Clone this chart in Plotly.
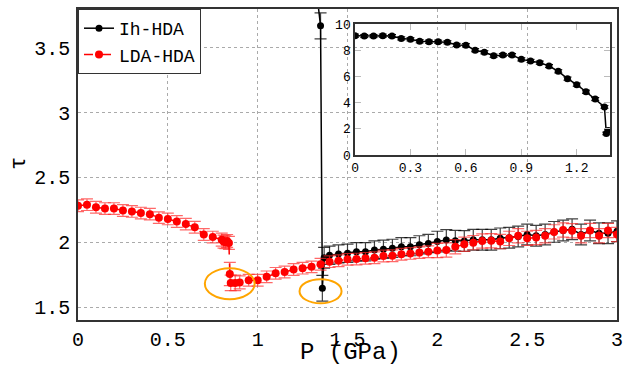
import plotly.graph_objects as go

# ---------------- data ----------------
# Ih-HDA (black)
ih_p = [0.00, 0.05, 0.10, 0.15, 0.20, 0.25, 0.30, 0.35, 0.40, 0.45, 0.50, 0.55, 0.60,
        0.65, 0.70, 0.75, 0.80, 0.85, 0.90, 0.95, 1.00, 1.05, 1.10, 1.15, 1.20, 1.25,
        1.30, 1.35, 1.36, 1.37, 1.40, 1.45, 1.50, 1.55, 1.60, 1.65, 1.70, 1.75, 1.80,
        1.85, 1.90, 1.95, 2.00, 2.05, 2.10, 2.15, 2.20, 2.25, 2.30, 2.35, 2.40, 2.45,
        2.50, 2.55, 2.60, 2.65, 2.70, 2.75, 2.80, 2.85, 2.90, 2.95, 3.00]
ih_tau = [9.11, 9.08, 9.08, 9.11, 9.08, 8.90, 8.83, 8.68, 8.65, 8.65, 8.60, 8.40, 8.38,
          8.00, 7.84, 7.58, 7.63, 7.63, 7.30, 7.18, 7.05, 6.79, 6.39, 5.83, 5.37, 4.83,
          4.27, 3.67, 1.645, 1.88, 1.90, 1.91, 1.915, 1.927, 1.927, 1.94, 1.946, 1.953,
          1.966, 1.966, 1.98, 1.99, 2.005, 2.018, 2.012, 2.01, 2.02, 2.02, 2.02, 2.03,
          2.035, 2.045, 2.06, 2.05, 2.06, 2.08, 2.09, 2.10, 2.06, 2.09, 2.07, 2.07, 2.085]
ih_err = [0.12] * 27 + [0.10, 0.10, 0.08] + [0.07] * 12 + [0.08] * 21

# LDA-HDA (red)
lda_p = [0.00, 0.05, 0.10, 0.15, 0.20, 0.25, 0.30, 0.35, 0.40, 0.45, 0.50, 0.55, 0.60,
         0.65, 0.70, 0.75, 0.80, 0.81, 0.82, 0.83, 0.84, 0.845, 0.85, 0.875, 0.90, 0.95,
         1.00, 1.05, 1.10, 1.15, 1.20, 1.25, 1.30, 1.35, 1.40, 1.45, 1.50, 1.55, 1.60,
         1.65, 1.70, 1.75, 1.80, 1.85, 1.90, 1.95, 2.00, 2.05, 2.10, 2.15, 2.20, 2.25,
         2.30, 2.35, 2.40, 2.45, 2.50, 2.55, 2.60, 2.65, 2.70, 2.75, 2.80, 2.85, 2.90,
         2.95, 3.00]
lda_tau = [2.282, 2.29, 2.27, 2.26, 2.26, 2.245, 2.238, 2.225, 2.217, 2.19, 2.18, 2.16,
           2.14, 2.116, 2.06, 2.04, 2.02, 2.005, 2.00, 2.01, 1.995, 1.755, 1.686, 1.686,
           1.69, 1.707, 1.707, 1.733, 1.76, 1.77, 1.79, 1.80, 1.81, 1.83, 1.85, 1.857,
           1.868, 1.87, 1.876, 1.88, 1.894, 1.896, 1.907, 1.914, 1.92, 1.927, 1.937, 1.94,
           1.966, 1.984, 1.997, 2.01, 2.012, 2.005, 2.03, 2.05, 2.03, 2.036, 2.05, 2.08,
           2.095, 2.088, 2.05, 2.09, 2.05, 2.09, 2.06]
lda_err = [0.045] * 16 + [0.05, 0.05, 0.05, 0.05, 0.05, 0.09, 0.06, 0.06, 0.05] + [0.045] * 21 + [0.055] * 21

main_xticks = [0, 0.5, 1, 1.5, 2, 2.5, 3]
main_yticks = [1.5, 2, 2.5, 3, 3.5]
inset_xticks = [0, 0.3, 0.6, 0.9, 1.2]
inset_yticks = [0, 2, 4, 6, 8, 10]

# highlighted regions (ellipses): [x0, x1, y0, y1]
ellipse1 = [0.706, 0.983, 1.56, 1.80]
ellipse2 = [1.233, 1.467, 1.529, 1.715]

MONO = "Liberation Mono, Courier New, monospace"
RED_ERR = "rgba(255,40,40,0.7)"

fig = go.Figure()

fig.add_trace(go.Scatter(
    x=ih_p, y=ih_tau, mode="lines+markers", name="Ih-HDA",
    line=dict(color="black", width=1.5),
    marker=dict(color="black", size=7),
    error_y=dict(type="data", array=ih_err, color="rgba(0,0,0,0.75)", thickness=1.2, width=6),
    xaxis="x", yaxis="y"))
fig.add_trace(go.Scatter(
    x=lda_p, y=lda_tau, mode="lines+markers", name="LDA-HDA",
    line=dict(color="red", width=1.5, dash="dash"),
    marker=dict(color="red", size=8),
    error_y=dict(type="data", array=lda_err, color=RED_ERR, thickness=1.2, width=6),
    xaxis="x", yaxis="y"))

fig.add_trace(go.Scatter(
    x=ih_p, y=ih_tau, mode="lines+markers", name="Ih-HDA", showlegend=False,
    line=dict(color="black", width=1.5),
    marker=dict(color="black", size=7),
    error_y=dict(type="data", array=ih_err, color="black", thickness=1, width=4),
    xaxis="x2", yaxis="y2"))

for e in (ellipse1, ellipse2):
    fig.add_shape(type="circle", xref="x", yref="y", x0=e[0], x1=e[1], y0=e[2], y1=e[3],
                  line=dict(color="orange", width=2), fillcolor="rgba(0,0,0,0)")

grid = dict(showgrid=True, gridcolor="#aaaaaa", griddash="dot", gridwidth=1,
            zeroline=False, showline=True, linecolor="#333333", linewidth=1.5,
            mirror=True, ticks="", automargin=False)

inset_ax = dict(showgrid=False, zeroline=False, showline=True, linecolor="#333333",
                linewidth=1.5, mirror="allticks", ticks="inside", ticklen=6,
                tickcolor="#bbbbbb", tickfont=dict(size=13), automargin=False)

fig.update_layout(
    width=634, height=368,
    margin=dict(l=78, r=17, t=9, b=48, autoexpand=False),
    paper_bgcolor="white", plot_bgcolor="rgba(0,0,0,0)",
    font=dict(family=MONO, size=20, color="black"),
    xaxis=dict(range=[0, 3], tickvals=main_xticks, ticktext=[str(v) for v in main_xticks], **grid),
    yaxis=dict(range=[1.4, 3.8], tickvals=main_yticks, ticktext=[str(v) for v in main_yticks],
               ticklabelstandoff=2, **grid),
    xaxis2=dict(domain=[0.514, 0.987], anchor="y2", range=[0, 1.38], tickvals=inset_xticks,
                ticktext=[str(v) for v in inset_xticks], **inset_ax),
    yaxis2=dict(domain=[0.5305, 0.9518], anchor="x2", range=[0, 10], tickvals=inset_yticks,
                ticktext=[str(v) for v in inset_yticks], **inset_ax),
    legend=dict(x=0, y=1, xanchor="left", yanchor="top", bgcolor="white",
                bordercolor="#333333", borderwidth=1, font=dict(size=18),
                tracegroupgap=0, itemwidth=30),
    showlegend=True,
    annotations=[
        dict(text="P (GPa)", xref="paper", yref="paper", x=0.505, y=-0.1543,
             xanchor="center", yanchor="bottom", showarrow=False, font=dict(size=24)),
        dict(text="τ", xref="paper", yref="paper", x=-0.108, y=0.505, textangle=-90,
             xanchor="center", yanchor="middle", showarrow=False, font=dict(size=22)),
    ],
)

fig.write_html("out.html", config={"displayModeBar": False},
               post_script="document.body.style.margin='0';document.body.style.overflow='hidden';")
